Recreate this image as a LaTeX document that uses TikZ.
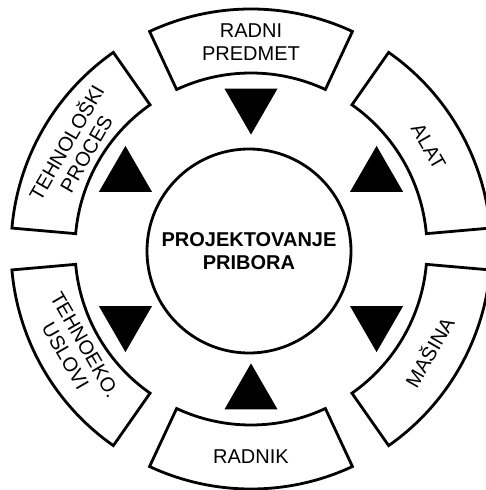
\documentclass[tikz,border=0pt]{standalone}
\usepackage{fontspec}
\setmainfont{Liberation Sans}
\usetikzlibrary{shapes.geometric}
\tikzset{
  okvir/.style={draw, line width=2.8pt, fill=white},
  natpis/.style={font=\fontsize{20}{22.5}\selectfont, align=center},
  strelica/.style={regular polygon, regular polygon sides=3, fill=black, inner sep=0pt, minimum size=61.2pt},
}
\begin{document}
\begin{tikzpicture}[x=1pt,y=1pt]
        \useasboundingbox (-251,-241) rectangle (234,249);
        %segmenti prstena
        \foreach \a in {90,30,-30,-90,-150,150}
          \draw[okvir] ({\a-25}:176) arc[start angle=\a-25, end angle=\a+25, radius=176]
            -- ({\a+25}:240) arc[start angle=\a+25, end angle=\a-25, radius=240] -- cycle;
        %natpisi u prstenu
        \node[natpis] (predmet) at (90:207) {RADNI\\PREDMET};
        \node[natpis, rotate=-60] (alat) at (30:205) {ALAT};
        \node[natpis, rotate=60] (masina) at (-30:205) {MAŠINA};
        \node[natpis] (radnik) at (-90:208) {RADNIK};
        \node[natpis, rotate=-60] (uslovi) at (-150:203) {TEHNOEKO.\\USLOVI};
        \node[natpis, rotate=60] (proces) at (150:203) {TEHNOLOŠKI\\PROCES};
        %trouglovi
        \node[strelica, shape border rotate=180] (trPredmet) at (90:145) {};
        \node[strelica] (trAlat) at (30:145) {};
        \node[strelica, shape border rotate=180] (trMasina) at (-30:145) {};
        \node[strelica] (trRadnik) at (-90:145) {};
        \node[strelica, shape border rotate=180] (trUslovi) at (-150:145) {};
        \node[strelica] (trProces) at (150:145) {};
        %centralni krug
        \node[draw, circle, line width=2.8pt, minimum size=204pt, align=center,
              font=\fontsize{20}{22.7}\selectfont\bfseries] (pribor) at (-2,-2) {PROJEKTOVANJE\\PRIBORA};
\end{tikzpicture}
\end{document}
